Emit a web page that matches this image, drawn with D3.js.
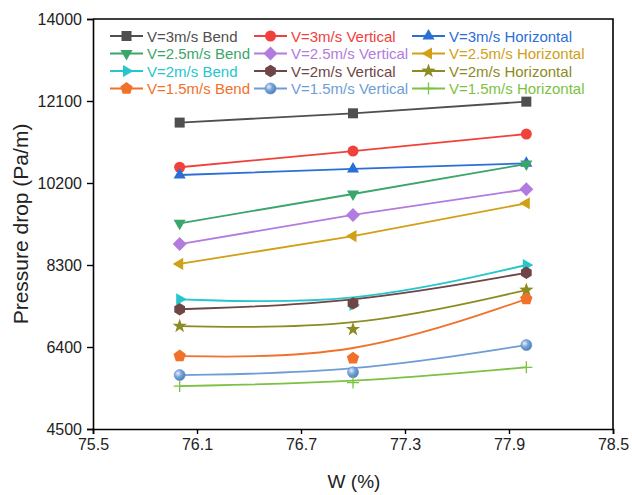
<!DOCTYPE html>
<html><head><meta charset="utf-8">
<script src="https://cdn.jsdelivr.net/npm/d3@7"></script>
<style>
body{margin:0;background:#fff}
svg{display:block;font-family:Arial,"Liberation Sans",sans-serif}
</style>
</head><body>
<svg id="chart" width="632" height="495"></svg>
<script>
// ---------- data ----------
const xValues = [76, 77, 78];
const xTicks = [75.5, 76.1, 76.7, 77.3, 77.9, 78.5];
const yTicks = [4500, 6400, 8300, 10200, 12100, 14000];
const seriesNames = [
  "V=3m/s Bend", "V=3m/s Vertical", "V=3m/s Horizontal",
  "V=2.5m/s Bend", "V=2.5m/s Vertical", "V=2.5m/s Horizontal",
  "V=2m/s Bend", "V=2m/s Vertical", "V=2m/s Horizontal",
  "V=1.5m/s Bend", "V=1.5m/s Vertical", "V=1.5m/s Horizontal"
];
const v3Bend = [11600, 11815, 12085];
const v3Vertical = [10565, 10940, 11335];
const v3Horizontal = [10385, 10525, 10655];
const v25Bend = [9265, 9945, 10640];
const v25Vertical = [8785, 9460, 10055];
const v25Horizontal = [8325, 8970, 9730];
const v2Bend = [7505, 7375, 8300];
const v2Vertical = [7275, 7410, 8120];
const v2Horizontal = [6885, 6810, 7720];
const v15Bend = [6190, 6140, 7510];
const v15Vertical = [5750, 5815, 6445];
const v15Horizontal = [5495, 5575, 5930];

const seriesValues = [v3Bend, v3Vertical, v3Horizontal, v25Bend, v25Vertical, v25Horizontal,
  v2Bend, v2Vertical, v2Horizontal, v15Bend, v15Vertical, v15Horizontal];
const colors = ["#4f4f4f", "#f0413c", "#2a6fd6", "#3aa66a", "#b27be0", "#d1a017",
  "#25c6cc", "#6e4646", "#8c8c22", "#f2712a", "#6e9dd6", "#7cc242"];
const markers = ["square", "circle", "triUp", "triDown", "diamond", "triLeft",
  "triRight", "hexagon", "star", "pentagon", "sphere", "plus"];
const smooth = [false, false, false, false, false, false, true, true, true, true, true, true];

// ---------- setup ----------
const svg = d3.select("#chart");
const x = d3.scaleLinear().domain([75.5, 78.5]).range([93, 613]);
const y = d3.scaleLinear().domain([4500, 14000]).range([429, 19]);

const defs = svg.append("defs");
const grad = defs.append("radialGradient").attr("id", "sph").attr("cx", "35%").attr("cy", "35%").attr("r", "70%");
grad.append("stop").attr("offset", "0%").attr("stop-color", "#e8f0fb");
grad.append("stop").attr("offset", "45%").attr("stop-color", "#7aa6da");
grad.append("stop").attr("offset", "100%").attr("stop-color", "#4a7dbb");

function poly(n, r, rot) {
  const pts = d3.range(n).map(i => {
    const a = rot + i * 2 * Math.PI / n;
    return [r * Math.cos(a), r * Math.sin(a)];
  });
  return "M" + pts.map(p => p[0].toFixed(2) + "," + p[1].toFixed(2)).join("L") + "Z";
}
function starPath(ro, ri) {
  const pts = d3.range(10).map(i => {
    const a = -Math.PI / 2 + i * Math.PI / 5;
    const r = i % 2 ? ri : ro;
    return [r * Math.cos(a), r * Math.sin(a)];
  });
  return "M" + pts.map(p => p[0].toFixed(2) + "," + p[1].toFixed(2)).join("L") + "Z";
}
function markerPath(type) {
  switch (type) {
    case "square": return "M-5,-5H5V5H-5Z";
    case "circle": case "sphere": return d3.symbol(d3.symbolCircle, Math.PI * 5.5 * 5.5)();
    case "triUp": return poly(3, 7, -Math.PI / 2);
    case "triDown": return poly(3, 7, Math.PI / 2);
    case "triLeft": return poly(3, 7, Math.PI);
    case "triRight": return poly(3, 7, 0);
    case "diamond": return poly(4, 7, -Math.PI / 2);
    case "hexagon": return poly(6, 6.2, -Math.PI / 2);
    case "pentagon": return poly(5, 6.5, -Math.PI / 2);
    case "star": return starPath(7.5, 3);
    case "plus": return "M-6,0H6M0,-6V6";
  }
}
function drawMarker(g, type, color, cx, cy) {
  const p = g.append("path").attr("d", markerPath(type)).attr("transform", `translate(${cx},${cy})`);
  if (type === "plus") p.attr("fill", "none").attr("stroke", color).attr("stroke-width", 1.3);
  else if (type === "sphere") p.attr("fill", "url(#sph)").attr("stroke", "#5d8cc6").attr("stroke-width", 0.6);
  else p.attr("fill", color).attr("stroke", "none");
}

// ---------- series ----------
const plot = svg.append("g");
seriesValues.forEach((vals, i) => {
  const pts = xValues.map((xv, j) => [xv, vals[j]]);
  const line = d3.line().x(d => x(d[0])).y(d => y(d[1]))
    .curve(smooth[i] ? d3.curveBasis : d3.curveLinear);
  plot.append("path").attr("d", line(pts)).attr("fill", "none")
    .attr("stroke", colors[i]).attr("stroke-width", 1.8);
  pts.forEach(p => drawMarker(plot, markers[i], colors[i], x(p[0]), y(p[1])));
});

// ---------- axes ----------
const xAxis = svg.append("g").attr("transform", "translate(0,429)")
  .call(d3.axisBottom(x).tickValues(xTicks).tickSize(5).tickPadding(5).tickFormat(d3.format(".1f")));
const yAxis = svg.append("g").attr("transform", "translate(93,0)")
  .call(d3.axisLeft(y).tickValues(yTicks).tickSize(6).tickPadding(5).tickFormat(d => String(d)));
[xAxis, yAxis].forEach(a => {
  a.select(".domain").attr("stroke", "#000").attr("stroke-width", 1.6);
  a.selectAll(".tick line").attr("stroke", "#000").attr("stroke-width", 1.4);
  a.selectAll(".tick text").attr("fill", "#222").style("font-size", "16px").style("font-family", "Arial, 'Liberation Sans', sans-serif");
});
// frame top & right
svg.append("path").attr("d", `M${x(75.5)},${y(14000)}H${x(78.5)}V${y(4500)}`)
  .attr("fill", "none").attr("stroke", "#000").attr("stroke-width", 1.6);

// titles
svg.append("text").attr("transform", "translate(28,224) rotate(-90)")
  .attr("text-anchor", "middle").style("font-size", "21px").attr("fill", "#222")
  .text("Pressure drop (Pa/m)");
svg.append("text").attr("x", 354).attr("y", 488)
  .attr("text-anchor", "middle").style("font-size", "19px").attr("fill", "#222")
  .text("W (%)");

// ---------- legend ----------
const legend = svg.append("g");
const colLineX = [110, 254, 412];
const rowY = [36, 53.5, 71, 88.5];
seriesNames.forEach((name, i) => {
  const r = Math.floor(i / 3), c = i % 3;
  const ly = rowY[r], lx = colLineX[c];
  legend.append("line").attr("x1", lx).attr("x2", lx + 33).attr("y1", ly).attr("y2", ly)
    .attr("stroke", colors[i]).attr("stroke-width", 1.8);
  drawMarker(legend, markers[i], colors[i], lx + 16.5, ly);
  legend.append("text").attr("x", lx + 37).attr("y", ly + 5.5)
    .style("font-size", "15px").attr("fill", colors[i]).text(name);
});
</script>
</body></html>
